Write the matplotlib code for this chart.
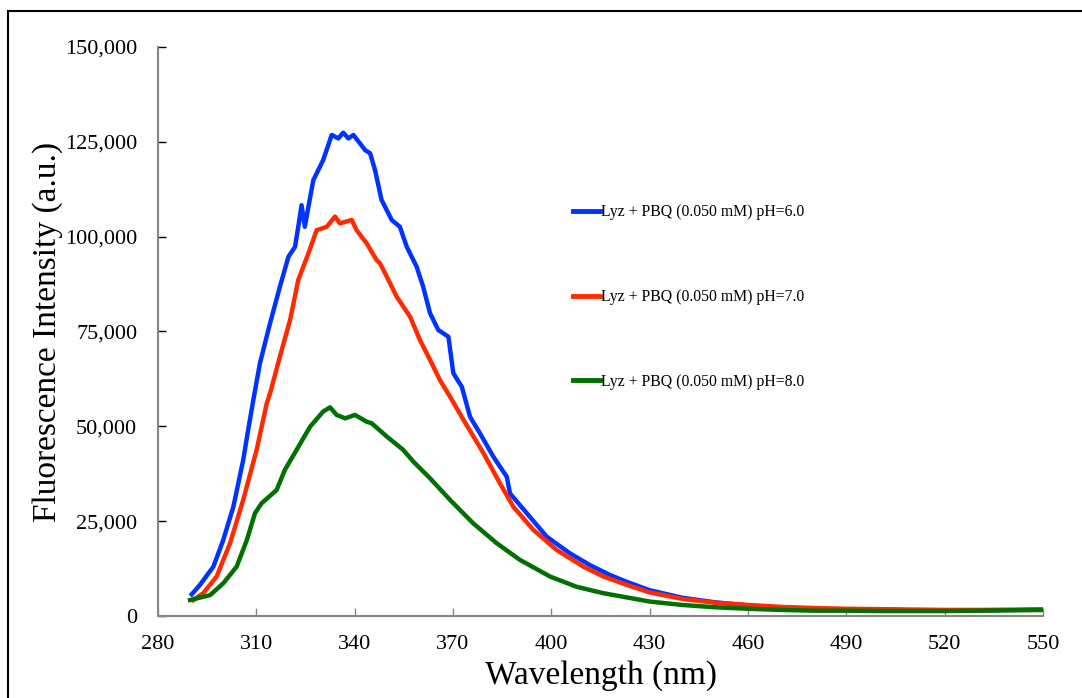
import matplotlib
matplotlib.use("Agg")
import matplotlib.pyplot as plt
from matplotlib.patches import Rectangle
from matplotlib.ticker import FuncFormatter

# Values (wavelength nm, intensity a.u.)
wl_ph6 = [290.3, 292.8, 296.9, 299.9, 303.0, 306.0, 307.6, 309.0, 311.1, 314.2, 317.2, 319.8, 321.8,
          322.8, 323.8, 324.8, 325.9, 327.4, 330.4, 333.0, 335.0, 336.5, 338.1, 339.6, 341.6, 343.2,
          344.7, 346.2, 348.2, 351.3, 353.8, 355.9, 358.9, 360.9, 363.0, 365.5, 368.6, 370.1, 372.7,
          375.2, 378.2, 382.3, 386.4, 387.4, 392.5, 398.6, 405.7, 411.8, 417.9, 423.0, 430.0, 440.0,
          450.0, 460.0, 470.0, 480.0, 490.0, 500.0, 510.0, 520.0, 530.0, 540.0, 550.0]
int_ph6 = [5700, 8200, 13000, 20000, 28800, 41100, 49500, 56500, 66600, 77200, 86800, 94700, 97300,
           102600, 108300, 102600, 107900, 114900, 120200, 126800, 125900, 127400, 125900, 126800,
           124600, 122800, 122000, 117600, 109700, 104400, 102600, 97300, 92100, 86800, 79800, 75400,
           73600, 64000, 60400, 52500, 48200, 42000, 36700, 32300, 27100, 20900, 16500, 13400, 10800,
           9000, 6800, 4800, 3600, 2800, 2200, 1900, 1700, 1600, 1500, 1400, 1500, 1600, 1700]

wl_ph7 = [290.8, 293.8, 297.9, 302.0, 306.0, 310.1, 313.2, 314.2, 317.2, 320.3, 322.8, 325.9, 328.4,
          331.5, 334.0, 335.5, 339.1, 340.6, 343.7, 346.7, 347.7, 350.3, 352.8, 356.9, 359.9, 363.0,
          366.0, 369.1, 373.2, 379.3, 384.3, 388.4, 394.5, 401.6, 409.8, 415.9, 423.0, 430.0, 440.0,
          450.0, 460.0, 470.0, 480.0, 490.0, 500.0, 510.0, 520.0, 530.0, 540.0, 550.0]
int_ph7 = [4200, 6000, 10400, 19200, 30600, 43800, 56100, 58700, 68400, 78000, 88600, 95600, 101700,
           102600, 105300, 103500, 104400, 101700, 98200, 93800, 93000, 88600, 84200, 78900, 72800,
           67500, 62200, 57800, 51700, 42900, 35000, 28800, 22700, 17400, 13000, 10400, 8200, 6200,
           4500, 3500, 2900, 2400, 2100, 1900, 1800, 1700, 1600, 1600, 1600, 1600]

wl_ph8 = [289.8, 295.9, 299.9, 304.0, 307.1, 309.6, 311.6, 316.2, 318.7, 322.3, 326.4, 330.4, 332.5,
          334.5, 337.1, 340.1, 343.7, 345.2, 349.8, 354.8, 357.9, 363.0, 369.1, 376.2, 383.3, 390.4,
          399.6, 407.7, 415.9, 423.0, 430.0, 440.0, 450.0, 460.0, 470.0, 480.0, 490.0, 500.0, 510.0,
          520.0, 530.0, 540.0, 550.0]
int_ph8 = [4200, 5500, 8600, 13000, 20000, 27100, 29700, 33200, 38500, 43800, 49900, 53900, 55000,
           53000, 52100, 53000, 51200, 50800, 47300, 43800, 40700, 36300, 30600, 24400, 19200, 14800,
           10400, 7700, 6000, 4900, 3800, 2900, 2300, 1900, 1600, 1400, 1400, 1300, 1300, 1300, 1400,
           1500, 1600]

labels = ["Lyz + PBQ (0.050 mM) pH=6.0", "Lyz + PBQ (0.050 mM) pH=7.0", "Lyz + PBQ (0.050 mM) pH=8.0"]
colors = ["#0033ff", "#ff2a00", "#007000"]

plt.rcParams["font.family"] = ["Liberation Serif", "DejaVu Serif"]

fig = plt.figure(figsize=(10.82, 6.98), dpi=100)
ax = fig.add_axes([0.146, 0.1175, 0.818, 0.8152])

ax.plot(wl_ph6, int_ph6, color=colors[0], lw=3.2, label=labels[0], solid_joinstyle="round")
ax.plot(wl_ph7, int_ph7, color=colors[1], lw=3.2, label=labels[1], solid_joinstyle="round")
ax.plot(wl_ph8, int_ph8, color=colors[2], lw=3.2, label=labels[2], solid_joinstyle="round")

ax.set_xlim(280, 550)
ax.set_ylim(0, 150000)
ax.set_xticks(range(280, 551, 30))
ax.set_yticks(range(0, 150001, 25000))
ax.yaxis.set_major_formatter(FuncFormatter(lambda v, p: f"{int(v):,}"))

for s in ["top", "right"]:
    ax.spines[s].set_visible(False)
for s in ["left", "bottom"]:
    ax.spines[s].set_color("#868686")
    ax.spines[s].set_linewidth(1.5)

ax.tick_params(axis="y", direction="in", length=6, width=1, color="black",
               labelsize=16, pad=15)
ax.tick_params(axis="x", direction="in", length=6, width=1, color="#868686",
               labelsize=16, pad=14)

ax.set_xlabel("Wavelength (nm)", fontsize=24, labelpad=4)
ax.set_ylabel("Fluorescence Intensity (a.u.)", fontsize=24, labelpad=1.5)

leg = ax.legend(loc="upper left", bbox_to_anchor=(0.453, 0.748), frameon=False, fontsize=11.3,
                handlelength=1.7, handletextpad=0.05, labelspacing=4.37)
for h in leg.get_lines():
    h.set_linewidth(3.5)

# frame around the figure (top and left edges visible)
fig.patches.append(Rectangle((8 / 1082, -0.05), 1.1, (698 - 11) / 698 + 0.05,
                             transform=fig.transFigure, fill=False, edgecolor="black", lw=1.5))

fig.savefig("out.png", dpi=100)
